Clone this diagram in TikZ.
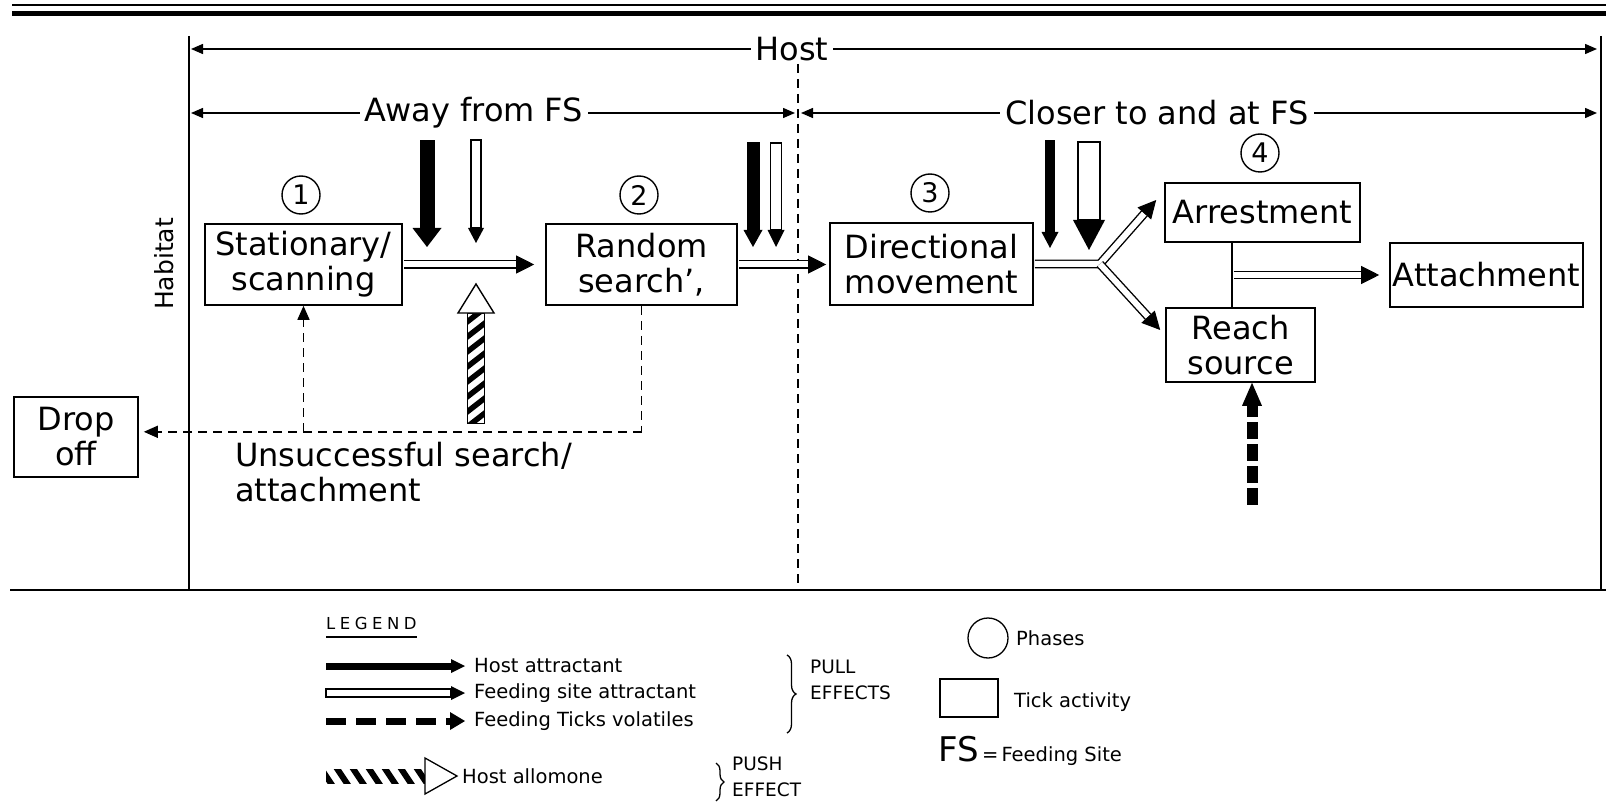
\documentclass[tikz,border=0pt]{standalone}
\usepackage{fontspec}
\setmainfont{DejaVu Sans}
\usetikzlibrary{arrows.meta,calc,decorations.pathreplacing}
\newcommand\fbig{\fontsize{32}{35}\selectfont}
\newcommand\fnum{\fontsize{27}{30}\selectfont}
\newcommand\fhab{\fontsize{25}{28}\selectfont}
\newcommand\fleg{\fontsize{19.5}{22}\selectfont}
\newcommand\fsml{\fontsize{18.5}{26}\selectfont}
\newcommand\flegh{\fontsize{16.5}{20}\selectfont}
\newcommand\ffs{\fontsize{34}{36}\selectfont}
\newcommand\blackdown[6]{%
  \fill ({#1-#5/2},#2) rectangle ({#1+#5/2},#3);
  \fill ({#1-#6/2},#3) -- ({#1+#6/2},#3) -- (#1,#4) -- cycle;}
\newcommand\opendown[6]{%
  \draw[line width=1.4pt, fill=white] ({#1-#5/2},#2) rectangle ({#1+#5/2},#3);
  \fill ({#1-#6/2},#3) -- ({#1+#6/2},#3) -- (#1,#4) -- cycle;}
\begin{document}
\begin{tikzpicture}[x=1pt,y=-1pt,
  box/.style={draw, line width=1.6pt, align=center, inner sep=0pt, font=\fbig},
  phase/.style={draw, circle, line width=1.4pt, minimum size=38pt, inner sep=0pt, font=\fnum},
  hline/.style={line width=1.4pt},
  tipB/.style={line width=1pt, -{Triangle[length=18pt,width=18pt]}},
  dbl/.style={double, double distance=6pt, line width=1.4pt, shorten <=1pt},
  dsh/.style={line width=1.5pt, dash pattern=on 9pt off 6pt},
  lbl/.style={fill=white, font=\fbig, inner xsep=5pt, inner ysep=0pt},
  legtxt/.style={anchor=west, font=\fleg, inner sep=0pt}]
\useasboundingbox (0,0) rectangle (1606,810);
\fill[white] (0,0) rectangle (1606,810);

% frame lines
\draw[line width=2pt] (12,5) -- (1606,5);
\draw[line width=5pt] (12,14) -- (1606,14);
\draw[line width=1.6pt] (189,36) -- (189,590);
\draw[line width=1.6pt] (1601,36) -- (1601,590);
\draw[line width=1.8pt] (10,590) -- (1606,590);

% range arrows
\draw[hline, {Triangle[length=12pt,width=10pt]}-{Triangle[length=12pt,width=10pt]}] (191,49) -- (1597,49);
\node[lbl] (host) at (792,49) {Host};
\draw[dsh] (798,64) -- (798,590);
\draw[hline, {Triangle[length=12pt,width=10pt]}-{Triangle[length=12pt,width=10pt]}] (191,113) -- (795,113);
\node[lbl] (away) at (474,113) {Away from FS};
\draw[hline, {Triangle[length=12pt,width=10pt]}-{Triangle[length=12pt,width=10pt]}] (801,113) -- (1597,113);
\node[lbl] (closer) at (1157,113) {Closer to and at FS};

\node[rotate=90, font=\fhab, inner sep=0pt] (hab) at (164,264) {Habitat};

% activity boxes
\node[box, minimum width=197pt, minimum height=81pt] (stat) at (303.5,264.5) {Stationary/\\scanning};
\node[box, minimum width=191pt, minimum height=81pt] (rand) at (641.5,264.5) {Random\\search',};
\node[box, minimum width=203pt, minimum height=82pt] (dir) at (931.5,264) {Directional\\movement};
\node[box, minimum width=195pt, minimum height=59pt] (arr) at (1262.5,212.5) {Arrestment};
\node[box, minimum width=193pt, minimum height=64pt] (att) at (1486.5,275) {Attachment};
\node[box, minimum width=149pt, minimum height=74pt] (reach) at (1240.5,345) {Reach\\source};
\node[box, minimum width=124pt, minimum height=80pt] (drop) at (76,437) {Drop\\off};

% phases
\node[phase] (p1) at (301,195) {1};
\node[phase] (p2) at (639,195) {2};
\node[phase] (p3) at (930,193) {3};
\node[phase] (p4) at (1260,153) {4};

% double arrows
\draw[dbl, shorten >=29pt] (stat.east) -- (stat.east -| rand.west);
\draw[tipB, shorten >=11pt] ($(stat.east -| rand.west)+(-29,0)$) -- (stat.east -| rand.west);
\draw[dbl, shorten >=21pt] (rand.east) -- (rand.east -| dir.west);
\draw[tipB, shorten >=3pt] ($(rand.east -| dir.west)+(-21,0)$) -- (rand.east -| dir.west);

\coordinate (J) at ($(dir.east)+(66,0)$);
\coordinate (ut) at ($(arr.west)+(-8,-12.5)$);
\coordinate (dt) at ($(reach.west)+(-5,-15)$);
\coordinate (ub) at ($(ut)!18pt!(J)$);
\coordinate (db) at ($(dt)!18pt!(J)$);
\draw[dbl] (dir.east) -- (J) -- (ub);
\draw[dbl, shorten <=0pt] (J) -- (db);
\draw[tipB] (ub) -- (ut);
\draw[tipB] (db) -- (dt);

\coordinate (ca) at ($(arr.south)+(-30.5,0)$);
\coordinate (cb) at (ca |- reach.north);
\coordinate (cm) at ($(ca)!0.5!(cb)$);
\draw[line width=1.6pt] (ca) -- (cb);
\draw[dbl, shorten <=1.5pt, shorten >=28pt] (cm) -- (cm -| att.west);
\draw[tipB, shorten >=10pt] ($(cm -| att.west)+(-28,0)$) -- (cm -| att.west);

% dashed return paths
\coordinate (cr) at ($(rand.south)+(0,126)$);
\draw[dsh] (rand.south) -- (cr);
\draw[dsh, -{Triangle[length=14pt,width=12pt]}, shorten >=5pt] (cr) -- (cr -| drop.east);
\draw[dsh, -{Triangle[length=14pt,width=12pt]}] (stat.south |- cr) -- (stat.south);
\node[anchor=north west, align=left, font=\fbig, inner sep=0pt] (unsucc) at (235,442) {Unsuccessful search/\\attachment};

% host attractant / feeding site attractant arrows
\blackdown{427}{140}{228}{247}{15}{29}
\opendown{476}{140}{228}{243}{10}{16}
\blackdown{753}{142}{230}{247}{13}{19}
\opendown{776}{143}{230}{247}{11}{17}
\blackdown{1050}{140}{232}{248}{10}{17}
\opendown{1089}{142}{220}{250}{22}{32}

% host allomone (push)
\begin{scope}
  \clip (467.5,313) rectangle (484.5,423);
  \foreach \k in {0,...,9} {\draw[line width=5.5pt] (458,{300+\k*15+14}) -- (494,{300+\k*15-14});}
\end{scope}
\draw[line width=1pt] (467.5,313) rectangle (484.5,423);
\draw[line width=1.4pt, fill=white] (458,313) -- (494,313) -- (476,284) -- cycle;

% feeding ticks volatiles
\coordinate (vt) at ($(reach.south)+(11.5,0)$);
\draw[line width=11pt, dash pattern=on 17pt off 5pt] ($(vt)+(0,122)$) -- ($(vt)+(0,22)$);
\fill ($(vt)+(-10,23)$) -- ($(vt)+(10,23)$) -- (vt) -- cycle;

% ---------------- legend ----------------
\node[anchor=base west, font=\flegh, inner sep=0pt] (legt) at (326,629) {L\hspace{4.5pt}E\hspace{4.5pt}G\hspace{4.5pt}E\hspace{4.5pt}N\hspace{4.5pt}D};
\draw[line width=1.2pt] ($(legt.base west)+(0,8)$) -- ($(legt.base east)+(0,8)$);

\fill (326,662.5) rectangle (451,669.5);
\fill (451,659) -- (451,673) -- (465,666) -- cycle;
\node[legtxt] (l1) at (474,666) {Host attractant};

\draw[line width=1.3pt, fill=white] (326,689) rectangle (451,697);
\fill (451,686) -- (451,700) -- (465,693) -- cycle;
\node[legtxt] (l2) at (474,693) {Feeding site attractant};

\draw[line width=7pt, dash pattern=on 20pt off 10pt] (326,721) -- (452,721);
\fill (450,712) -- (450,730) -- (465,721) -- cycle;
\node[legtxt] (l3) at (474,721) {Feeding Ticks volatiles};

\begin{scope}
  \clip (326,769) rectangle (425,783);
  \foreach \k in {0,...,7} {\draw[line width=6pt] ({318+\k*16},764) -- ({334+\k*16},788);}
\end{scope}
\draw[line width=1.3pt, fill=white] (425,758) -- (425,794) -- (457,776) -- cycle;
\node[legtxt] (l4) at (462,776) {Host allomone};

\draw[line width=1.3pt, decorate, decoration={brace, amplitude=9pt}] (787,655) -- (787,733);
\node[anchor=west, font=\fsml, inner sep=0pt, align=left] (pull) at (810,680) {PULL\\EFFECTS};
\draw[line width=1.3pt, decorate, decoration={brace, amplitude=8pt}] (716,763) -- (716,801);
\node[anchor=west, font=\fsml, inner sep=0pt, align=left] (push) at (732,777) {PUSH\\EFFECT};

\node[draw, circle, minimum size=40pt, line width=1.3pt, inner sep=0pt] (lc) at (988,638) {};
\node[legtxt] (lph) at (1016,638) {Phases};
\node[draw, minimum width=58pt, minimum height=38pt, line width=1.6pt, inner sep=0pt] (lr) at (969,698) {};
\node[legtxt] (lta) at (1014,702) {Tick activity};
\node[anchor=base west, inner sep=0pt] (lfs) at (938,761) {\ffs FS\fleg\,=\,Feeding Site};
\end{tikzpicture}
\end{document}
